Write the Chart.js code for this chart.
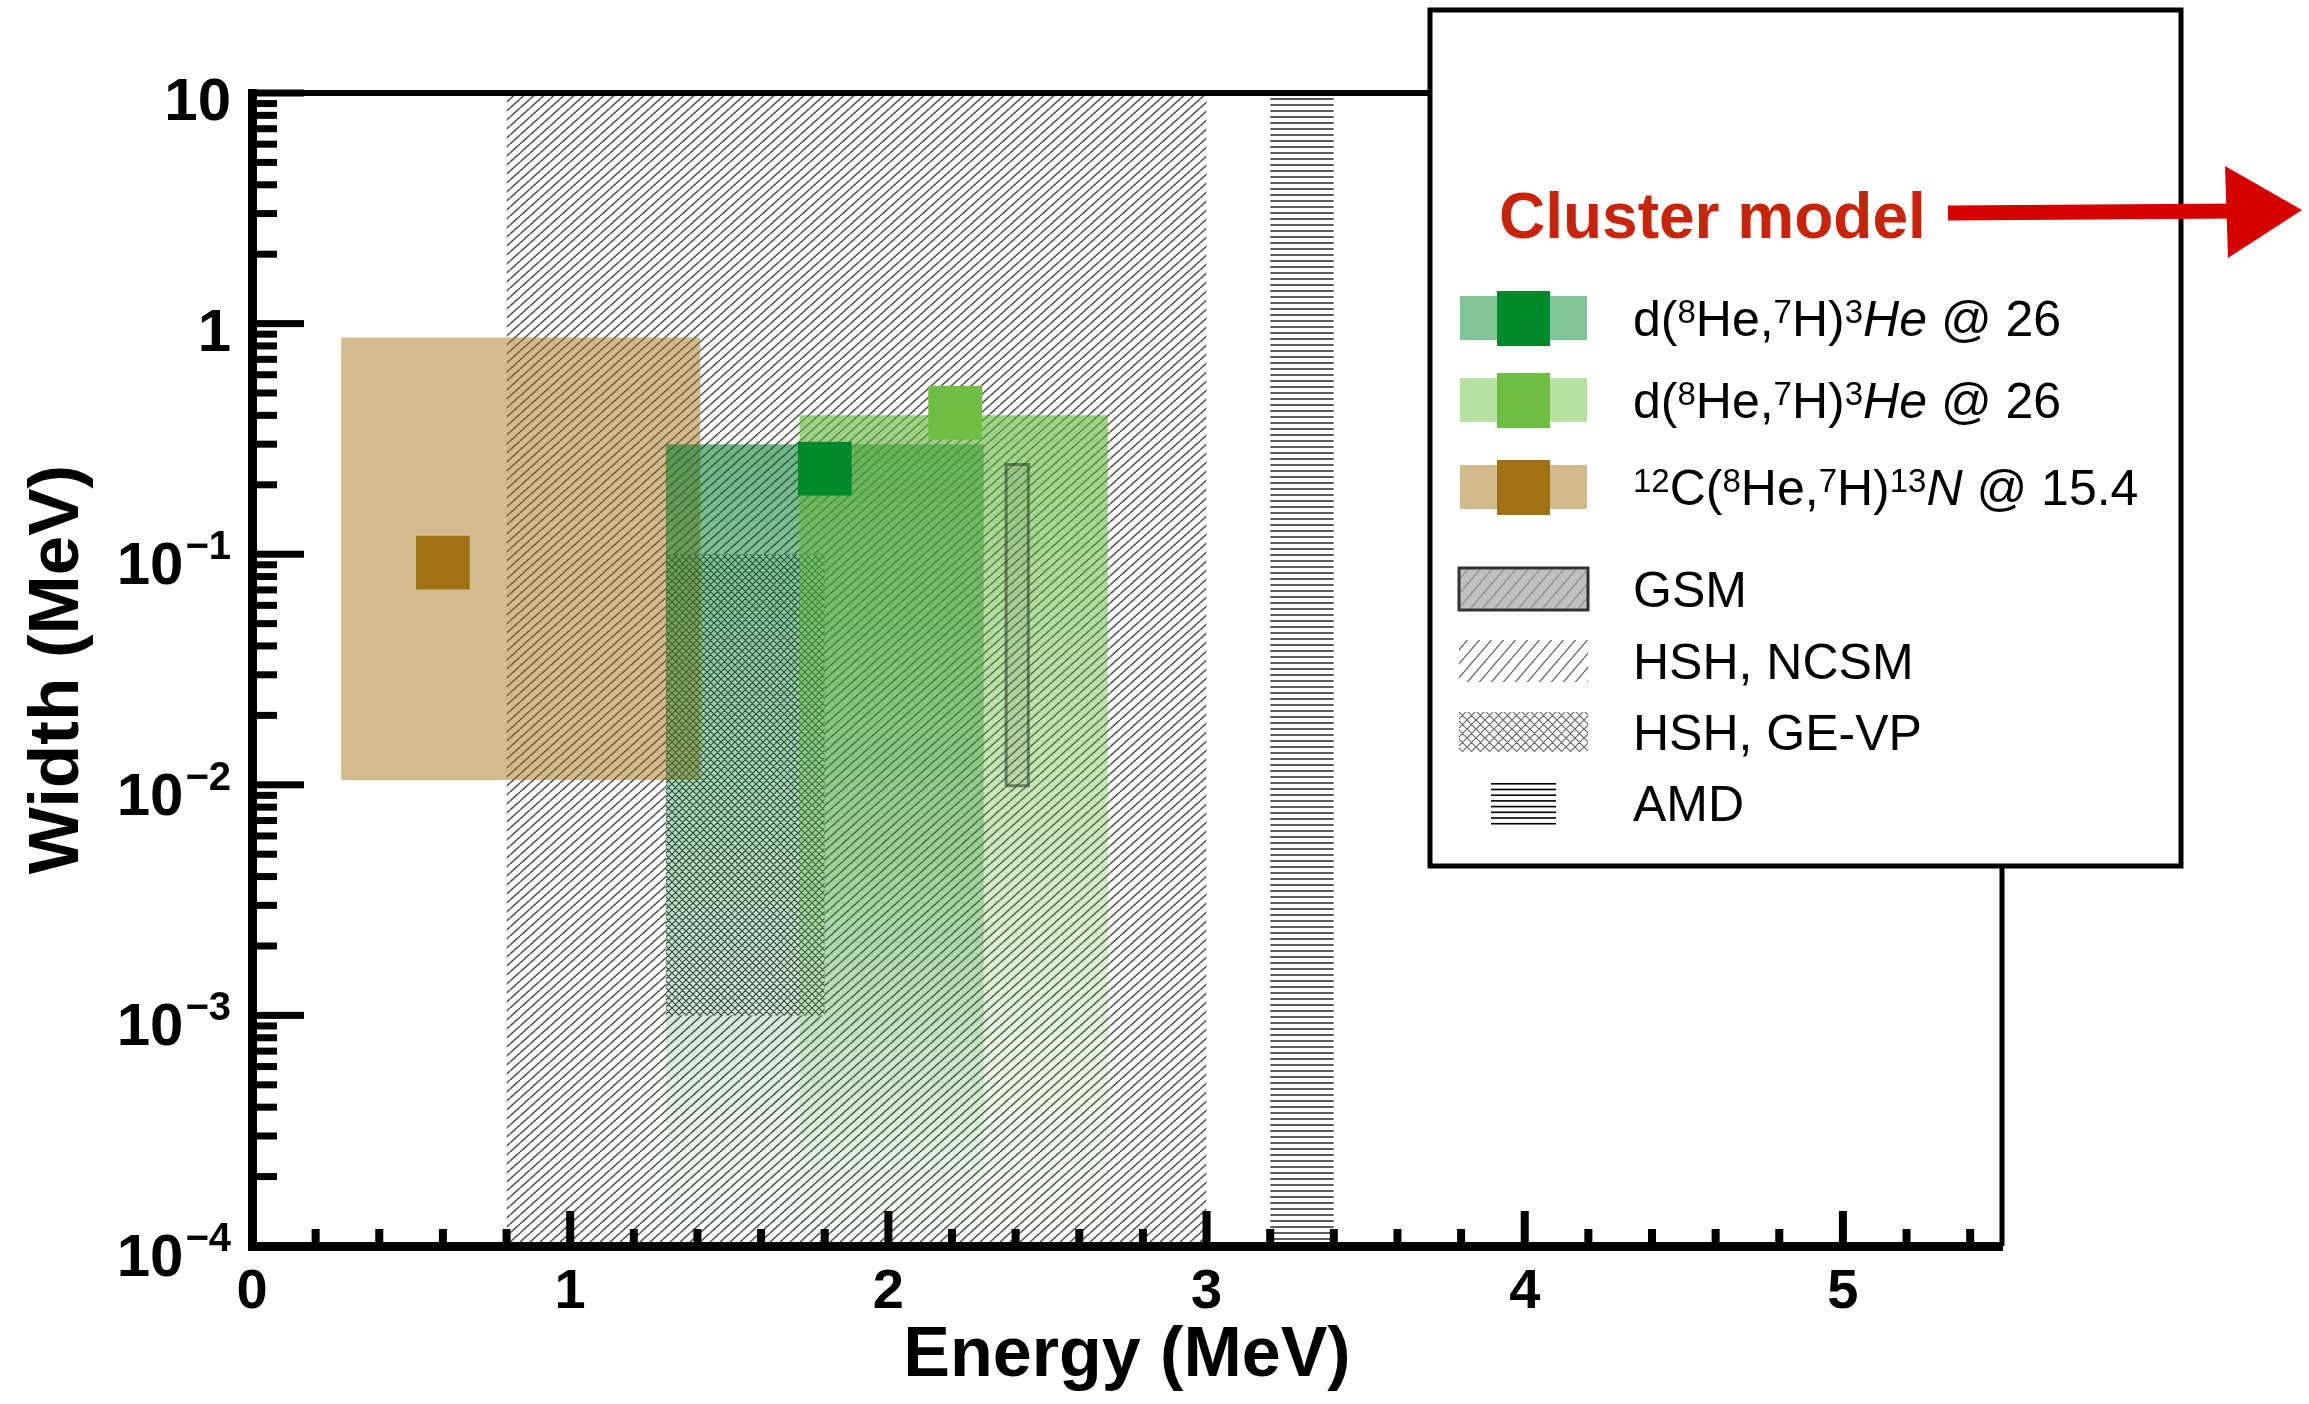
<!DOCTYPE html>
<html>
<head>
<meta charset="utf-8">
<script src="https://cdn.jsdelivr.net/npm/chart.js@4.4.1/dist/chart.umd.min.js"></script>
<style>
  html, body { margin: 0; padding: 0; background: #fff; }
  canvas { display: block; }
</style>
</head>
<body>
<canvas id="myChart" width="2309" height="1404"></canvas>
<script>
// axis ranges and tick labels
const xRange = [0, 5.5];
const yRange = [1e-4, 10];
const xTickValues = [0, 1, 2, 3, 4, 5];
const xTickLabels = ['0', '1', '2', '3', '4', '5'];
const yTickValues = [1e-4, 1e-3, 1e-2, 1e-1, 1, 10];
const yTickBase = ['10', '10', '10', '10', '1', '10'];
const yTickExp = ['\u22124', '\u22123', '\u22122', '\u22121', '', ''];

// boxes: [xmin, xmax, ymin, ymax]
const brownBox = [0.28, 1.41, 0.0105, 0.87];
const darkGreenBox = [1.3, 2.3, 1e-4, 0.30];
const lightGreenBox = [1.72, 2.69, 1e-4, 0.40];
const ncsmBand = [0.8, 3.0, 1e-4, 10];
const gevpBand = [1.3, 1.8, 1e-3, 0.1];
const amdBand = [3.2, 3.4, 1e-4, 10];
const gsmBox = [2.37, 2.44, 0.0099, 0.245];

// measured points
const darkGreenPoint = [{ x: 1.8, y: 0.235 }];
const lightGreenPoint = [{ x: 2.21, y: 0.41 }];
const brownPoint = [{ x: 0.6, y: 0.092 }];

// legend
const legendTitle = 'Cluster model';
const legendTexts = [
	[['d(', ''], ['8', 'sup'], ['He,', ''], ['7', 'sup'], ['H)', ''], ['3', 'sup'], ['He', 'it'], [' @ 26', '']],
	[['d(', ''], ['8', 'sup'], ['He,', ''], ['7', 'sup'], ['H)', ''], ['3', 'sup'], ['He', 'it'], [' @ 26', '']],
	[['12', 'sup'], ['C(', ''], ['8', 'sup'], ['He,', ''], ['7', 'sup'], ['H)', ''], ['13', 'sup'], ['N', 'it'], [' @ 15.4', '']],
	[['GSM', '']],
	[['HSH, NCSM', '']],
	[['HSH, GE-VP', '']],
	[['AMD', '']],
];
const legendSwatchColors = [['#80c497', '#00882c'], ['#b8e0a3', '#6fbe44'], ['#d1bb8c', '#a07114']];

const FONT = '"Liberation Sans", Arial, sans-serif';

const canvas = document.getElementById('myChart');
const mainCtx = canvas.getContext('2d');

// hatch patterns
const makePattern = (w, h, color, lw, kind, bg) => {
	const c = document.createElement('canvas');
	c.width = w;
	c.height = h;
	const g = c.getContext('2d');
	if (bg) { g.fillStyle = bg; g.fillRect(0, 0, w, h); }
	g.strokeStyle = color;
	g.lineWidth = lw;
	g.beginPath();
	if (kind === 'diag' || kind === 'cross') {
		for (const dx of [-w, 0, w]) { g.moveTo(dx, h); g.lineTo(dx + w, 0); }
	}
	if (kind === 'cross') {
		for (const dx of [-w, 0, w]) { g.moveTo(dx, 0); g.lineTo(dx + w, h); }
	}
	if (kind === 'horiz') { g.moveTo(0, h / 2); g.lineTo(w, h / 2); }
	g.stroke();
	return mainCtx.createPattern(c, 'repeat');
};

const ncsmPattern = makePattern(10, 9, 'rgba(0,0,0,0.68)', 1.6, 'diag');
const gevpPattern = makePattern(7, 7, 'rgba(0,0,0,0.75)', 1.2, 'cross', '#fff');
const amdPattern = makePattern(4, 6, 'rgba(0,0,0,0.85)', 1.5, 'horiz');
const legendDiag = makePattern(12, 14, 'rgba(0,0,0,0.6)', 1.3, 'diag');
const legendGsmDiag = makePattern(12, 14, 'rgba(0,0,0,0.25)', 1.3, 'diag');
const legendCross = makePattern(9, 9, 'rgba(0,0,0,0.6)', 1.2, 'cross');

// fading fill from the box top down to the axis
const fadeFill = (box, rgb, aTop, aBottom) => (context) => {
	const chart = context.chart;
	if (!chart.chartArea || !chart.scales.y) return `rgba(${rgb},${aTop})`;
	const y = chart.scales.y;
	const g = chart.ctx.createLinearGradient(0, y.getPixelForValue(box[3]), 0, y.getPixelForValue(box[2]));
	g.addColorStop(0, `rgba(${rgb},${aTop})`);
	g.addColorStop(1, `rgba(${rgb},${aBottom})`);
	return g;
};

const boxDataset = (box, fill, order) => ({
	type: 'line',
	data: [{ x: box[0], y: box[3] }, { x: box[1], y: box[3] }],
	fill: { value: box[2] },
	backgroundColor: fill,
	borderColor: 'rgba(0,0,0,0)',
	borderWidth: 0,
	pointRadius: 0,
	order,
});

const pointDataset = (data, color, order) => ({
	type: 'line',
	data,
	showLine: false,
	pointStyle: 'rect',
	pointRadius: 38,
	pointBackgroundColor: color,
	pointBorderWidth: 0,
	borderColor: 'rgba(0,0,0,0)',
	order,
});

const outline = (box) => [
	{ x: box[0], y: box[2] }, { x: box[0], y: box[3] },
	{ x: box[1], y: box[3] }, { x: box[1], y: box[2] }, { x: box[0], y: box[2] },
];

// draws frame, inner ticks, tick labels and the legend box
const decorations = {
	id: 'decorations',
	afterDraw(chart) {
		const ctx = chart.ctx;
		const { left, right, top, bottom } = chart.chartArea;
		const x = chart.scales.x;
		const y = chart.scales.y;
		ctx.save();

		// top and right frame
		ctx.strokeStyle = '#000';
		ctx.lineWidth = 6;
		ctx.beginPath(); ctx.moveTo(left, top); ctx.lineTo(right, top); ctx.stroke();
		ctx.lineWidth = 5;
		ctx.beginPath(); ctx.moveTo(right, top - 3); ctx.lineTo(right, bottom); ctx.stroke();

		// y ticks (inside)
		ctx.fillStyle = '#000';
		for (let k = -4; k <= 0; k++) {
			for (let m = 1; m <= 9; m++) {
				const py = y.getPixelForValue(m * Math.pow(10, k));
				const len = m === 1 ? 48 : 21;
				ctx.fillRect(left + 4, py - 3.5, len, 7);
			}
		}
		ctx.fillRect(left + 4, y.getPixelForValue(10) - 3.5, 48, 7);

		// x ticks (inside)
		for (let i = 0; i <= 27; i++) {
			const px = x.getPixelForValue(i * 0.2);
			const len = i % 5 === 0 ? 31 : 13;
			ctx.fillRect(px - 4, bottom - 4 - len, 8, len);
		}

		// y labels
		ctx.textAlign = 'right';
		ctx.textBaseline = 'alphabetic';
		yTickValues.forEach((v, i) => {
			const py = y.getPixelForValue(v);
			let xr = left - 21;
			if (yTickExp[i]) {
				ctx.font = `bold 40px ${FONT}`;
				ctx.fillText(yTickExp[i], xr, py + 5);
				xr -= ctx.measureText(yTickExp[i]).width + 2;
				ctx.font = `bold 60px ${FONT}`;
				ctx.fillText(yTickBase[i], xr, py + 30);
			} else {
				ctx.font = `bold 60px ${FONT}`;
				ctx.fillText(yTickBase[i], xr, py + 27);
			}
		});

		// x labels
		ctx.textAlign = 'center';
		ctx.font = `bold 56px ${FONT}`;
		xTickValues.forEach((v, i) => {
			ctx.fillText(xTickLabels[i], x.getPixelForValue(v), 1308);
		});

		// legend box
		const lx = 1430, ly = 10, lw = 751, lh = 856;
		ctx.fillStyle = '#fff';
		ctx.fillRect(lx, ly, lw, lh);
		ctx.strokeStyle = '#000';
		ctx.lineWidth = 5;
		ctx.strokeRect(lx, ly, lw, lh);

		ctx.textAlign = 'left';
		ctx.fillStyle = '#c8240c';
		ctx.font = `bold 64px ${FONT}`;
		ctx.fillText(legendTitle, 1499, 238);

		// red arrow
		ctx.fillStyle = '#d50000';
		ctx.strokeStyle = '#d50000';
		ctx.lineWidth = 15;
		ctx.beginPath(); ctx.moveTo(1948, 213); ctx.lineTo(2236, 211); ctx.stroke();
		ctx.beginPath();
		ctx.moveTo(2225, 166); ctx.lineTo(2302, 210); ctx.lineTo(2228, 258);
		ctx.closePath(); ctx.fill();

		const rows = [318, 400, 487, 589, 661, 732, 803];
		// coloured swatches
		legendSwatchColors.forEach((c, i) => {
			const cy = rows[i];
			ctx.fillStyle = c[0];
			ctx.fillRect(1460, cy - 22, 127, 44);
			ctx.fillStyle = c[1];
			ctx.fillRect(1497, cy - 27, 53, 55);
		});
		// GSM
		ctx.fillStyle = '#c0c0c0';
		ctx.fillRect(1459, rows[3] - 21, 129, 42);
		ctx.fillStyle = legendGsmDiag;
		ctx.fillRect(1459, rows[3] - 21, 129, 42);
		ctx.strokeStyle = '#333';
		ctx.lineWidth = 3;
		ctx.strokeRect(1459, rows[3] - 21, 129, 42);
		// NCSM
		ctx.fillStyle = legendDiag;
		ctx.fillRect(1459, rows[4] - 21, 129, 42);
		// GE-VP
		ctx.fillStyle = legendCross;
		ctx.fillRect(1459, rows[5] - 20, 129, 40);
		// AMD
		ctx.fillStyle = '#000';
		for (let j = 0; j < 8; j++) ctx.fillRect(1491, rows[6] - 20 + j * 5.7, 65, 1.6);

		// legend texts
		ctx.fillStyle = '#000';
		legendTexts.forEach((segs, i) => {
			let cx = 1633;
			const base = rows[i] + 18;
			segs.forEach(([t, st]) => {
				let yy = base;
				if (st === 'sup') { ctx.font = `33px ${FONT}`; yy = base - 13; }
				else if (st === 'it') ctx.font = `italic 50px ${FONT}`;
				else ctx.font = `50px ${FONT}`;
				ctx.fillText(t, cx, yy);
				cx += ctx.measureText(t).width;
			});
		});

		ctx.restore();
	},
};

new Chart(canvas, {
	type: 'line',
	data: {
		datasets: [
			pointDataset(darkGreenPoint, '#00882c', 1),
			pointDataset(lightGreenPoint, '#6fbe44', 2),
			pointDataset(brownPoint, '#a07114', 3),
			{
				type: 'line', data: outline(gsmBox), fill: false,
				borderColor: 'rgba(40,60,40,0.55)', borderWidth: 3, pointRadius: 0, order: 4,
			},
			boxDataset(gsmBox, 'rgba(90,90,90,0.12)', 5),
			boxDataset(amdBand, amdPattern, 6),
			boxDataset(lightGreenBox, fadeFill(lightGreenBox, '95,180,55', 0.62, 0.0), 7),
			boxDataset(darkGreenBox, fadeFill(darkGreenBox, '0,120,40', 0.56, 0.0), 8),
			boxDataset(brownBox, 'rgba(160,113,20,0.48)', 9),
			boxDataset(gevpBand, gevpPattern, 10),
			boxDataset(ncsmBand, ncsmPattern, 11),
		],
	},
	options: {
		responsive: false,
		animation: false,
		events: [],
		devicePixelRatio: 1,
		layout: { padding: { top: 93, right: 307, bottom: 0, left: 0 } },
		plugins: { legend: { display: false }, tooltip: { enabled: false } },
		scales: {
			x: {
				type: 'linear',
				min: xRange[0],
				max: xRange[1],
				grid: { display: false },
				border: { display: true, width: 9, color: '#000', z: 1 },
				ticks: { display: false },
				title: {
					display: true,
					text: 'Energy (MeV)',
					color: '#000',
					font: { family: FONT, size: 70, weight: 'bold', lineHeight: 1 },
					padding: { top: 0, bottom: 12 },
				},
				afterFit: (s) => { s.height = 158; },
			},
			y: {
				type: 'logarithmic',
				min: yRange[0],
				max: yRange[1],
				grid: { display: false },
				border: { display: true, width: 9, color: '#000', z: 1 },
				ticks: { display: false },
				title: {
					display: true,
					text: 'Width (MeV)',
					color: '#000',
					font: { family: FONT, size: 71, weight: 'bold', lineHeight: 1 },
					padding: { top: 23, bottom: 0 },
				},
				afterFit: (s) => { s.width = 252; },
			},
		},
	},
	plugins: [decorations],
});
</script>
</body>
</html>
